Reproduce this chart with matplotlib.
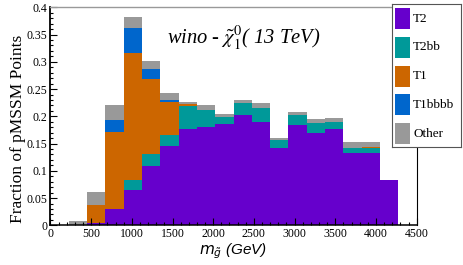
import numpy as np
import matplotlib
matplotlib.use("Agg")
import matplotlib.pyplot as plt
from matplotlib.patches import Rectangle
from matplotlib.ticker import MultipleLocator

# ---- data ----
bin_edges_start = [0, 225, 450, 675, 900, 1125, 1350, 1575, 1800, 2025,
                   2250, 2475, 2700, 2925, 3150, 3375, 3600, 3825, 4050, 4275]
bin_width = 225
T2 = [0, 0, 0.005, 0.030, 0.065, 0.108, 0.146, 0.177, 0.181, 0.186,
      0.202, 0.189, 0.141, 0.184, 0.170, 0.177, 0.133, 0.132, 0.084, 0]
T2bb = [0, 0, 0, 0, 0.018, 0.023, 0.020, 0.042, 0.031, 0.013,
        0.023, 0.027, 0.016, 0.018, 0.017, 0.013, 0.009, 0.010, 0, 0]
T1 = [0, 0, 0.033, 0.142, 0.233, 0.137, 0.061, 0.004, 0, 0,
      0, 0, 0, 0, 0, 0, 0, 0.002, 0, 0]
T1bbbb = [0, 0, 0, 0.021, 0.046, 0.018, 0.002, 0, 0, 0,
          0, 0, 0, 0, 0, 0, 0, 0, 0, 0]
Other = [0, 0.007, 0.023, 0.027, 0.021, 0.016, 0.013, 0.003, 0.009, 0.005,
         0.005, 0.009, 0.004, 0.005, 0.008, 0.006, 0.010, 0.008, 0, 0]
series_names = ["T2", "T2bb", "T1", "T1bbbb", "Other"]
series_vals = [T2, T2bb, T1, T1bbbb, Other]
colors = ["#6600cc", "#009999", "#cc6600", "#0066cc", "#999999"]

W, H = 463, 265
fig = plt.figure(figsize=(W / 100, H / 100), dpi=100)
ax = fig.add_axes([50.4 / W, 1 - 225.3 / H, (416.7 - 50.4) / W, (225.3 - 7.3) / H])

bottom = np.zeros(len(bin_edges_start))
for name, vals, c in zip(series_names, series_vals, colors):
    v = np.array(vals)
    ax.bar(bin_edges_start, v, width=bin_width, bottom=bottom, align="edge",
           color=c, edgecolor="none", linewidth=0)
    bottom += v

ax.set_xlim(0, 4500)
ax.set_ylim(0, 0.4)
ax.xaxis.set_major_locator(MultipleLocator(500))
ax.xaxis.set_minor_locator(MultipleLocator(100))
ax.yaxis.set_minor_locator(MultipleLocator(0.01))
ax.set_yticks([0, 0.05, 0.1, 0.15, 0.2, 0.25, 0.3, 0.35, 0.4])
ax.set_yticklabels(["0", "0.05", "0.1", "0.15", "0.2", "0.25", "0.3", "0.35", "0.4"])
ax.tick_params(which="both", direction="in", top=False, right=False,
               labelsize=8.5, pad=2, width=0.8)
ax.tick_params(which="major", length=5)
ax.tick_params(which="minor", length=2.5)
for lab in ax.get_xticklabels() + ax.get_yticklabels():
    lab.set_fontfamily("Liberation Serif")

for s in ["left", "bottom", "right"]:
    ax.spines[s].set_color("black")
ax.spines["left"].set_linewidth(1.3)
ax.spines["bottom"].set_linewidth(1.1)
ax.spines["right"].set_linewidth(0.8)
ax.spines["top"].set_color("#999999")
ax.spines["top"].set_linewidth(1.0)

fig.text(18.5 / W, 1 - 129 / H, "Fraction of pMSSM Points",
         fontfamily="Liberation Serif", fontsize=12.5, rotation=90,
         ha="center", va="center")

fig.text(233.5 / W, 1 - 251.5 / H, r"$m_{\tilde{g}}$ (GeV)",
         fontfamily="Liberation Sans", style="italic", fontsize=11,
         ha="center", va="center", math_fontfamily="dejavusans")

fig.text(166.7 / W, 1 - 44 / H, r"wino - $\tilde{\chi}_{1}^{0}$( 13 TeV)",
         fontfamily="Liberation Serif", style="italic", fontsize=14.8,
         ha="left", va="baseline", math_fontfamily="stix")

# legend box
lx0, ly0, lx1, ly1 = 392.3, 4.0, 460.7, 147.0
lax = fig.add_axes([lx0 / W, 1 - ly1 / H, (lx1 - lx0) / W, (ly1 - ly0) / H])
lax.set_xlim(lx0, lx1)
lax.set_ylim(ly1, ly0)
lax.set_xticks([])
lax.set_yticks([])
lax.patch.set_facecolor("white")
for s in lax.spines.values():
    s.set_color("#555555")
    s.set_linewidth(0.8)
for i, (name, c) in enumerate(zip(series_names, colors)):
    yc = 18.5 + i * 28.8
    lax.add_patch(Rectangle((395.2, yc - 10.5), 15, 21, facecolor=c, edgecolor="none"))
    lax.text(413, yc, name, fontfamily="Liberation Serif", fontsize=9.5,
             va="center", ha="left")

fig.savefig("out.png", dpi=100)
